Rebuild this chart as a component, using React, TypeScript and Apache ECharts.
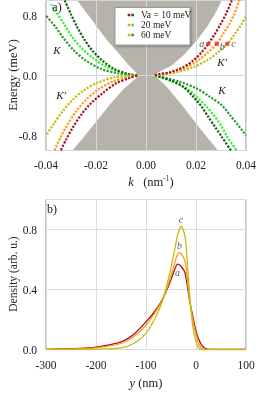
import React, { useEffect, useRef } from "react";
import * as echarts from "echarts";

const FONT = "'Liberation Serif', 'Times New Roman', serif";

// ---------- Panel a data (k in nm^-1, Energy in meV) ----------
const gapBoundary: number[][] = [
  [-0.0275, 1.0], [-0.0235, 0.822], [-0.0195, 0.644], [-0.0155, 0.467], [-0.0108, 0.289],
  [-0.0068, 0.133], [-0.0041, 0.044], [-0.0035, 0.0], [-0.0041, -0.04], [-0.0088, -0.173],
  [-0.0141, -0.373], [-0.0195, -0.596], [-0.0248, -0.818], [-0.0295, -1.0],
  [0.0288, -1.0], [0.0216, -0.707], [0.0149, -0.418], [0.0083, -0.151], [0.0036, 0.0],
  [0.0049, 0.044], [0.0103, 0.133], [0.0156, 0.289], [0.0203, 0.467], [0.0243, 0.644],
  [0.0276, 0.822], [0.0303, 1.0],
];

// K' valley (red family): upper-right and lower-left branches
const kpUp10 = [[0.0036, 0], [0.0043, 0.013], [0.0096, 0.044], [0.0149, 0.111], [0.0189, 0.2], [0.0223, 0.311], [0.0249, 0.422], [0.0276, 0.556], [0.0299, 0.689], [0.032, 0.822], [0.0343, 1.0]];
const kpLo10 = [[-0.0036, 0], [-0.0061, -0.027], [-0.0121, -0.107], [-0.0175, -0.24], [-0.0221, -0.373], [-0.0261, -0.529], [-0.0295, -0.707], [-0.0321, -0.862], [-0.0341, -1.0]];
const kpUp20 = [[0.0036, 0], [0.0109, 0.044], [0.0163, 0.111], [0.0209, 0.2], [0.0249, 0.311], [0.0283, 0.422], [0.0309, 0.556], [0.0333, 0.689], [0.0353, 0.822], [0.0373, 1.0]];
const kpLo20 = [[-0.0036, 0], [-0.0068, -0.018], [-0.0135, -0.084], [-0.0195, -0.196], [-0.0241, -0.329], [-0.0281, -0.484], [-0.0315, -0.662], [-0.0341, -0.818], [-0.0366, -1.0]];
const kpUp60 = [[0.0036, 0], [0.0123, 0.044], [0.0189, 0.111], [0.0243, 0.2], [0.0289, 0.311], [0.0325, 0.422], [0.0356, 0.556], [0.0383, 0.689], [0.04, 0.79]];
const kpLo60 = [[-0.0036, 0], [-0.0128, -0.027], [-0.0195, -0.098], [-0.0248, -0.196], [-0.0295, -0.329], [-0.0335, -0.484], [-0.0368, -0.64], [-0.04, -0.8]];

// K valley (green family): upper-left and lower-right branches
const kUp10 = [[-0.0035, 0], [-0.0075, 0.022], [-0.0128, 0.089], [-0.0175, 0.2], [-0.0215, 0.333], [-0.0248, 0.489], [-0.0275, 0.644], [-0.0301, 0.822], [-0.0325, 1.0]];
const kLo10 = [[0.0036, 0], [0.0096, -0.062], [0.0149, -0.151], [0.0189, -0.284], [0.0223, -0.418], [0.0249, -0.551], [0.0276, -0.684], [0.0303, -0.818], [0.034, -1.0]];
const kUp20 = [[-0.0035, 0], [-0.0095, 0.031], [-0.0155, 0.111], [-0.0208, 0.222], [-0.0255, 0.356], [-0.0295, 0.511], [-0.0328, 0.689], [-0.0364, 0.867], [-0.038, 0.95]];
const kLo20 = [[0.0036, 0], [0.0109, -0.084], [0.0163, -0.173], [0.0209, -0.307], [0.0243, -0.418], [0.0276, -0.551], [0.0303, -0.684], [0.0329, -0.84], [0.0363, -1.0]];
const kUp60 = [[-0.0035, 0], [-0.0115, 0.031], [-0.0181, 0.089], [-0.0241, 0.2], [-0.0288, 0.333], [-0.0328, 0.489], [-0.0361, 0.644], [-0.04, 0.8]];
const kLo60 = [[0.0036, 0], [0.0136, -0.084], [0.0203, -0.173], [0.0256, -0.284], [0.0303, -0.396], [0.0336, -0.529], [0.0363, -0.64], [0.0389, -0.751], [0.04, -0.8]];

const markerPoints = [[0.0249, 0.422], [0.0283, 0.422], [0.0325, 0.422]];
const markerNames = ["a", "b", "c"];

const legendNames = ["Va = 10 meV", "20 meV", "60 meV"];

// ---------- Panel b data (y in nm, density in arb. u.) ----------
const yNm = [-300, -250, -200, -150, -125, -100, -80, -67, -53, -43, -37, -33, -30, -23, -20, -13, -7, 0, 7, 13, 23, 40, 100];
const densA = [0.001, 0.005, 0.016, 0.051, 0.1, 0.184, 0.265, 0.335, 0.44, 0.53, 0.569, 0.565, 0.555, 0.52, 0.48, 0.33, 0.23, 0.12, 0.056, 0.022, 0.002, 0, 0];
const densB = [0, 0.003, 0.011, 0.04, 0.085, 0.162, 0.255, 0.33, 0.46, 0.57, 0.635, 0.646, 0.64, 0.6, 0.55, 0.34, 0.21, 0.1, 0.03, 0.002, 0, 0, 0];
const densC = [0, 0, 0.002, 0.011, 0.04, 0.107, 0.22, 0.325, 0.5, 0.66, 0.76, 0.8, 0.822, 0.77, 0.7, 0.38, 0.17, 0.05, 0.005, 0, 0, 0, 0];

const C_RED = "#a3151b";
const C_ORANGE = "#ff9a16";
const C_OLIVE = "#c4bd0e";
const C_DKGREEN = "#1a5e1a";
const C_BRGREEN = "#2cf52c";
const C_GREEN = "#2e9a2e";

export default function App() {
  const ref = useRef<HTMLDivElement>(null);
  useEffect(() => {
    if (!ref.current) return;
    const chart = echarts.init(ref.current, null, { renderer: "svg" });

    const dotted = (data: number[][], color: string) => ({
      type: "line",
      xAxisIndex: 0,
      yAxisIndex: 0,
      data,
      showSymbol: false,
      smooth: 0.3,
      silent: true,
      z: 2,
      lineStyle: { color, width: 2.2, type: [2.2, 1.4], cap: "butt" },
    });

    const curves = [
      [kUp60, C_GREEN], [kLo60, C_GREEN],
      [kUp20, C_BRGREEN], [kLo20, C_BRGREEN],
      [kUp10, C_DKGREEN], [kLo10, C_DKGREEN],
      [kpUp60, C_OLIVE], [kpLo60, C_OLIVE],
      [kpUp20, C_ORANGE], [kpLo20, C_ORANGE],
      [kpUp10, C_RED], [kpLo10, C_RED],
    ] as [number[][], string][];

    const densLine = (vals: number[], color: string) => ({
      type: "line",
      xAxisIndex: 1,
      yAxisIndex: 2,
      data: yNm.map((y, i) => [y, vals[i]]),
      showSymbol: false,
      smooth: 0.25,
      silent: true,
      lineStyle: { color, width: 1.3 },
    });

    const peakOf = (vals: number[]) => {
      let m = 0;
      vals.forEach((v, i) => { if (v > vals[m]) m = i; });
      return [yNm[m], vals[m]];
    };

    const labelText = { fontFamily: FONT, fontStyle: "italic", fontSize: 10, color: "#333" };

    const legendColors = [[C_RED, C_DKGREEN], [C_ORANGE, C_BRGREEN], [C_OLIVE, C_GREEN]];
    const legendGraphics: any[] = [
      {
        type: "rect",
        shape: { x: 115, y: 7.5, width: 75, height: 37.5 },
        style: { fill: "#fff", stroke: "#999", lineWidth: 1, shadowBlur: 2, shadowColor: "rgba(0,0,0,0.35)", shadowOffsetX: 1, shadowOffsetY: 1 },
        z: 10,
      },
    ];
    legendNames.forEach((name, i) => {
      const yy = 15 + i * 10;
      legendGraphics.push(
        { type: "rect", shape: { x: 127.7, y: yy - 1.3, width: 2.6, height: 2.6 }, style: { fill: legendColors[i][0] }, z: 11 },
        { type: "rect", shape: { x: 131.3, y: yy - 1.3, width: 2.6, height: 2.6 }, style: { fill: legendColors[i][1] }, z: 11 },
        { type: "text", x: 141, y: yy, style: { text: name, fontFamily: FONT, fontSize: 9.5, fill: "#222", verticalAlign: "middle", align: "left" }, z: 11 }
      );
    });

    const txt = (text: string, x: number, y: number, extra: any = {}) => ({
      type: "text",
      x,
      y,
      z: 12,
      style: { text, fontFamily: FONT, fontSize: 12, fill: "#222", align: "center", verticalAlign: "middle", ...extra },
    });

    const option: any = {
      animation: false,
      textStyle: { fontFamily: FONT },
      grid: [
        { left: 46, top: 0.5, width: 200, height: 150, show: true, borderColor: "#8a8a8a", borderWidth: 1, backgroundColor: "transparent" },
        { left: 46, top: 199.5, width: 200, height: 150, show: true, borderColor: "#8a8a8a", borderWidth: 1, backgroundColor: "transparent" },
      ],
      xAxis: [
        {
          type: "value", gridIndex: 0, min: -0.04, max: 0.04, interval: 0.02,
          axisLine: { show: false }, axisTick: { show: false },
          axisLabel: { fontFamily: FONT, fontSize: 11.5, color: "#222", margin: 8, formatter: (v: number) => v.toFixed(2) },
          splitLine: { show: true, lineStyle: { color: "#d6d6de", width: 1 } },
        },
        {
          type: "value", gridIndex: 1, min: -300, max: 100, interval: 100,
          axisLine: { show: false }, axisTick: { show: false },
          axisLabel: { fontFamily: FONT, fontSize: 11.5, color: "#222", margin: 9 },
          splitLine: { show: true, lineStyle: { color: "#dcdcdc", width: 1 } },
        },
      ],
      yAxis: [
        {
          type: "value", gridIndex: 0, min: -1, max: 1, interval: 0.2,
          axisLine: { show: false }, axisTick: { show: false },
          axisLabel: {
            fontFamily: FONT, fontSize: 11.5, color: "#222", margin: 9,
            formatter: (v: number) => (Math.abs(Math.abs(v) - 0.8) < 1e-6 ? v.toFixed(1) : Math.abs(v) < 1e-6 ? "0.0" : ""),
          },
          splitLine: { show: false },
        },
        {
          type: "value", gridIndex: 0, min: -1, max: 1, interval: 1,
          axisLine: { show: false }, axisTick: { show: false }, axisLabel: { show: false },
          splitLine: { show: true, lineStyle: { color: "#d6d6de", width: 1 } },
        },
        {
          type: "value", gridIndex: 1, min: 0, max: 1, interval: 0.4,
          axisLine: { show: false }, axisTick: { show: false },
          axisLabel: { fontFamily: FONT, fontSize: 11.5, color: "#222", margin: 9, showMaxLabel: false, formatter: (v: number) => v.toFixed(1) },
          splitLine: { show: true, lineStyle: { color: "#dcdcdc", width: 1 } },
        },
      ],
      series: [
        {
          type: "custom",
          xAxisIndex: 0,
          yAxisIndex: 0,
          z: -1,
          silent: true,
          data: [[0, 0]],
          renderItem: (params: any, api: any) => ({
            type: "polygon",
            shape: { points: gapBoundary.map((p) => api.coord(p)) },
            style: { fill: "#b6b4aa" },
          }),
        },
        ...curves.map(([d, c]) => dotted(d, c)),
        {
          type: "scatter",
          xAxisIndex: 0,
          yAxisIndex: 0,
          z: 5,
          symbol: "rect",
          symbolSize: 4,
          itemStyle: { color: "#ee2222" },
          data: markerPoints.map((p, i) => ({
            value: p,
            name: markerNames[i],
            label: {
              show: true,
              formatter: markerNames[i],
              position: i === 0 ? "left" : "right",
              offset: i === 1 ? [-1, 3] : [0, 0],
              distance: 2,
              ...labelText,
            },
          })),
        },
        densLine(densA, C_RED),
        densLine(densB, C_ORANGE),
        densLine(densC, C_OLIVE),
        {
          type: "scatter",
          xAxisIndex: 1,
          yAxisIndex: 2,
          symbolSize: 0,
          silent: true,
          data: [peakOf(densA), peakOf(densB), peakOf(densC)].map((p, i) => ({
            value: p,
            label: {
              show: true,
              formatter: markerNames[i],
              position: i === 0 ? "bottom" : "top",
              distance: i === 0 ? 3 : 2,
              ...labelText,
            },
          })),
        },
      ],
      graphic: [
        ...legendGraphics,
        txt("Energy (meV)", 13, 75, { fontSize: 12.5 }),
        txt("Density (arb. u.)", 13, 274, { fontSize: 11.5 }),
        txt("a)", 57, 7, { fontSize: 12 }),
        txt("b)", 52, 209, { fontSize: 12 }),
        txt("K", 57, 50, { fontStyle: "italic", fontSize: 11 }),
        txt("K'", 61, 95, { fontStyle: "italic", fontSize: 11 }),
        txt("K'", 222, 62, { fontStyle: "italic", fontSize: 11 }),
        txt("K", 222, 90, { fontStyle: "italic", fontSize: 11 }),
        {
          type: "text", x: 151, y: 182, z: 12,
          style: {
            text: "{i|k}   (nm{s|-1})",
            align: "center", verticalAlign: "middle",
            rich: {
              i: { fontFamily: FONT, fontStyle: "italic", fontSize: 12.5, fill: "#222" },
              s: { fontFamily: FONT, fontSize: 7.5, fill: "#222", padding: [0, 0, 7, 0] },
            },
            fontFamily: FONT, fontSize: 12.5, fill: "#222",
          },
        },
        {
          type: "text", x: 146, y: 383, z: 12,
          style: {
            text: "{i|y} (nm)",
            align: "center", verticalAlign: "middle",
            rich: { i: { fontFamily: FONT, fontStyle: "italic", fontSize: 12.5, fill: "#222" } },
            fontFamily: FONT, fontSize: 12.5, fill: "#222",
          },
        },
      ],
    };
    option.graphic[legendGraphics.length].rotation = Math.PI / 2;
    option.graphic[legendGraphics.length + 1].rotation = Math.PI / 2;

    chart.setOption(option);
    return () => chart.dispose();
  }, []);

  return <div ref={ref} style={{ position: "fixed", left: 0, top: 0, width: 269, height: 403 }} />;
}
